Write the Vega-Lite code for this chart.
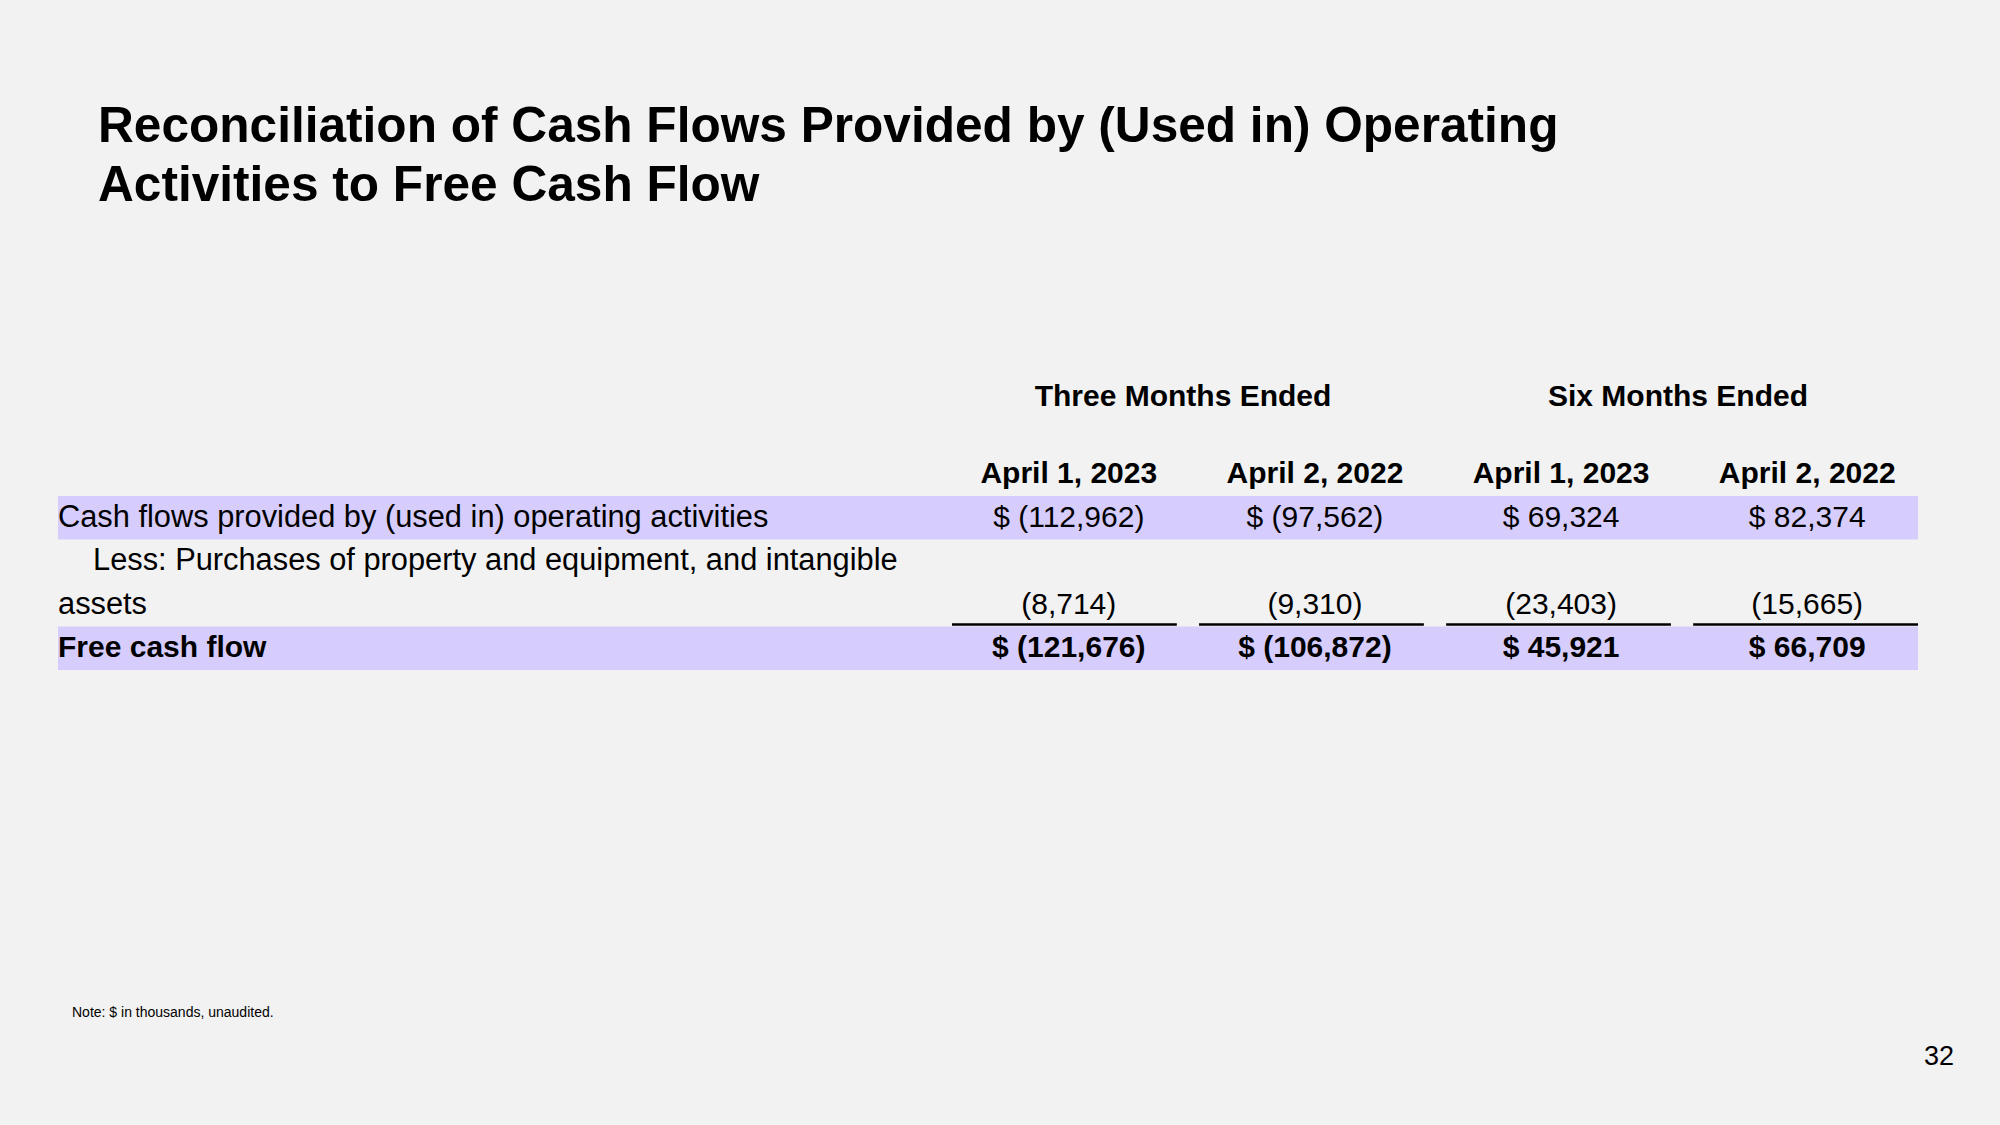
{
  "$schema": "https://vega.github.io/schema/vega-lite/v6.json",
  "width": 2000,
  "height": 1125,
  "autosize": {"type": "none"},
  "padding": 0,
  "background": "#f2f2f2",
  "config": {
    "view": {"stroke": null},
    "text": {"font": "Liberation Sans", "color": "#000000", "baseline": "middle", "fontSize": 30}
  },
  "datasets": {
    "title": [
      {"part": "first", "text": "Reconciliation of Cash Flows Provided by (Used in) Operating"},
      {"part": "second", "text": "Activities to Free Cash Flow"}
    ],
    "headers": [
      {"level": "group", "text": "Three Months Ended", "period": null},
      {"level": "group", "text": "Six Months Ended", "period": null},
      {"level": "date", "text": "April 1, 2023", "period": "3M-2023"},
      {"level": "date", "text": "April 2, 2022", "period": "3M-2022"},
      {"level": "date", "text": "April 1, 2023", "period": "6M-2023"},
      {"level": "date", "text": "April 2, 2022", "period": "6M-2022"}
    ],
    "lines": [
      {"line": "r1", "label": "Cash flows provided by (used in) operating activities"},
      {"line": "r2a", "label": "Less: Purchases of property and equipment, and intangible"},
      {"line": "r2b", "label": "assets"},
      {"line": "r3", "label": "Free cash flow"}
    ],
    "cells": [
      {"line": "r1", "period": "3M-2023", "amount": -112962, "display": "$ (112,962)"},
      {"line": "r1", "period": "3M-2022", "amount": -97562, "display": "$ (97,562)"},
      {"line": "r1", "period": "6M-2023", "amount": 69324, "display": "$ 69,324"},
      {"line": "r1", "period": "6M-2022", "amount": 82374, "display": "$ 82,374"},
      {"line": "r2b", "period": "3M-2023", "amount": -8714, "display": "(8,714)"},
      {"line": "r2b", "period": "3M-2022", "amount": -9310, "display": "(9,310)"},
      {"line": "r2b", "period": "6M-2023", "amount": -23403, "display": "(23,403)"},
      {"line": "r2b", "period": "6M-2022", "amount": -15665, "display": "(15,665)"},
      {"line": "r3", "period": "3M-2023", "amount": -121676, "display": "$ (121,676)"},
      {"line": "r3", "period": "3M-2022", "amount": -106872, "display": "$ (106,872)"},
      {"line": "r3", "period": "6M-2023", "amount": 45921, "display": "$ 45,921"},
      {"line": "r3", "period": "6M-2022", "amount": 66709, "display": "$ 66,709"}
    ],
    "footer": [
      {"item": "note", "text": "Note: $ in thousands, unaudited."},
      {"item": "page", "text": "32"}
    ]
  },
  "layer": [
    {
      "data": {"name": "lines"},
      "transform": [{"filter": "datum.line === 'r1' || datum.line === 'r3'"}],
      "mark": {"type": "rect", "color": "#d6cdfd"},
      "encoding": {
        "y": {"field": "line", "type": "nominal", "axis": null,
              "scale": {"type": "band", "domain": ["r1", "r2a", "r2b", "r3"], "range": [496, 670], "paddingInner": 0, "paddingOuter": 0}},
        "x": {"datum": 0, "type": "quantitative", "axis": null, "scale": {"domain": [0, 1], "range": [58, 1918], "nice": false, "zero": false}},
        "x2": {"datum": 1}
      }
    },
    {
      "data": {"name": "lines"},
      "transform": [{"filter": "datum.line === 'r1' || datum.line === 'r2b'"}],
      "mark": {"type": "text", "align": "left", "fontSize": 30.8},
      "encoding": {
        "y": {"field": "line", "type": "nominal", "axis": null, "bandPosition": 0.5,
              "scale": {"type": "band", "domain": ["r1", "r2a", "r2b", "r3"], "range": [496, 670], "paddingInner": 0, "paddingOuter": 0}},
        "x": {"datum": 0, "type": "quantitative", "axis": null, "scale": {"domain": [0, 1], "range": [58, 1918], "nice": false, "zero": false}},
        "text": {"field": "label", "type": "nominal"}
      }
    },
    {
      "data": {"name": "lines"},
      "transform": [{"filter": "datum.line === 'r2a'"}],
      "mark": {"type": "text", "align": "left", "fontSize": 30.8, "dx": 35},
      "encoding": {
        "y": {"field": "line", "type": "nominal", "axis": null, "bandPosition": 0.5,
              "scale": {"type": "band", "domain": ["r1", "r2a", "r2b", "r3"], "range": [496, 670], "paddingInner": 0, "paddingOuter": 0}},
        "x": {"datum": 0, "type": "quantitative", "axis": null, "scale": {"domain": [0, 1], "range": [58, 1918], "nice": false, "zero": false}},
        "text": {"field": "label", "type": "nominal"}
      }
    },
    {
      "data": {"name": "lines"},
      "transform": [{"filter": "datum.line === 'r3'"}],
      "mark": {"type": "text", "align": "left", "fontWeight": "bold"},
      "encoding": {
        "y": {"field": "line", "type": "nominal", "axis": null, "bandPosition": 0.5,
              "scale": {"type": "band", "domain": ["r1", "r2a", "r2b", "r3"], "range": [496, 670], "paddingInner": 0, "paddingOuter": 0}},
        "x": {"datum": 0, "type": "quantitative", "axis": null, "scale": {"domain": [0, 1], "range": [58, 1918], "nice": false, "zero": false}},
        "text": {"field": "label", "type": "nominal"}
      }
    },
    {
      "data": {"name": "cells"},
      "transform": [{"filter": "datum.line !== 'r3'"}],
      "mark": {"type": "text", "align": "center"},
      "encoding": {
        "y": {"field": "line", "type": "nominal", "axis": null, "bandPosition": 0.5,
              "scale": {"type": "band", "domain": ["r1", "r2a", "r2b", "r3"], "range": [496, 670], "paddingInner": 0, "paddingOuter": 0}},
        "x": {"field": "period", "type": "nominal", "axis": null, "bandPosition": 0.5,
              "scale": {"type": "band", "domain": ["3M-2023", "3M-2022", "6M-2023", "6M-2022"], "range": [958, 1918], "paddingInner": 0.1, "paddingOuter": 0}},
        "text": {"field": "display", "type": "nominal"}
      }
    },
    {
      "data": {"name": "cells"},
      "transform": [{"filter": "datum.line === 'r3'"}],
      "mark": {"type": "text", "align": "center", "fontWeight": "bold"},
      "encoding": {
        "y": {"field": "line", "type": "nominal", "axis": null, "bandPosition": 0.5,
              "scale": {"type": "band", "domain": ["r1", "r2a", "r2b", "r3"], "range": [496, 670], "paddingInner": 0, "paddingOuter": 0}},
        "x": {"field": "period", "type": "nominal", "axis": null, "bandPosition": 0.5,
              "scale": {"type": "band", "domain": ["3M-2023", "3M-2022", "6M-2023", "6M-2022"], "range": [958, 1918], "paddingInner": 0.1, "paddingOuter": 0}},
        "text": {"field": "display", "type": "nominal"}
      }
    },
    {
      "data": {"name": "cells"},
      "transform": [{"filter": "datum.line === 'r3'"}],
      "mark": {"type": "rule", "color": "#000000", "strokeWidth": 2.5, "yOffset": -2},
      "encoding": {
        "y": {"field": "line", "type": "nominal", "axis": null, "bandPosition": 0,
              "scale": {"type": "band", "domain": ["r1", "r2a", "r2b", "r3"], "range": [496, 670], "paddingInner": 0, "paddingOuter": 0}},
        "x": {"field": "period", "type": "nominal", "axis": null, "bandPosition": 0,
              "scale": {"type": "band", "domain": ["3M-2023", "3M-2022", "6M-2023", "6M-2022"], "range": [952, 1918], "paddingInner": 0.09, "paddingOuter": 0}},
        "x2": {"field": "period", "bandPosition": 1}
      }
    },
    {
      "data": {"name": "headers"},
      "transform": [{"filter": "datum.level === 'group'"}],
      "mark": {"type": "text", "align": "center", "fontWeight": "bold"},
      "encoding": {
        "y": {"field": "level", "type": "nominal", "axis": null,
              "scale": {"type": "point", "domain": ["group", "date"], "range": [397, 474], "padding": 0}},
        "x": {"field": "text", "type": "nominal", "axis": null,
              "scale": {"type": "point", "domain": ["Three Months Ended", "Six Months Ended"], "range": [1183, 1678], "padding": 0}},
        "text": {"field": "text", "type": "nominal"}
      }
    },
    {
      "data": {"name": "headers"},
      "transform": [{"filter": "datum.level === 'date'"}],
      "mark": {"type": "text", "align": "center", "fontWeight": "bold"},
      "encoding": {
        "y": {"field": "level", "type": "nominal", "axis": null,
              "scale": {"type": "point", "domain": ["group", "date"], "range": [397, 474], "padding": 0}},
        "x": {"field": "period", "type": "nominal", "axis": null, "bandPosition": 0.5,
              "scale": {"type": "band", "domain": ["3M-2023", "3M-2022", "6M-2023", "6M-2022"], "range": [958, 1918], "paddingInner": 0.1, "paddingOuter": 0}},
        "text": {"field": "text", "type": "nominal"}
      }
    },
    {
      "data": {"name": "title"},
      "mark": {"type": "text", "align": "left", "fontWeight": "bold", "fontSize": 49.6},
      "encoding": {
        "y": {"field": "part", "type": "nominal", "axis": null,
              "scale": {"type": "point", "domain": ["first", "second"], "range": [127, 186], "padding": 0}},
        "x": {"datum": 0, "type": "quantitative", "axis": null, "scale": {"domain": [0, 1], "range": [98, 1918], "nice": false, "zero": false}},
        "text": {"field": "text", "type": "nominal"}
      }
    },
    {
      "data": {"name": "footer"},
      "transform": [{"filter": "datum.item === 'note'"}],
      "mark": {"type": "text", "align": "left", "fontSize": 14},
      "encoding": {
        "y": {"field": "item", "type": "nominal", "axis": null,
              "scale": {"type": "point", "domain": ["note", "page"], "range": [1013, 1057], "padding": 0}},
        "x": {"field": "item", "type": "nominal", "axis": null,
              "scale": {"type": "point", "domain": ["note", "page"], "range": [72, 1954], "padding": 0}},
        "text": {"field": "text", "type": "nominal"}
      }
    },
    {
      "data": {"name": "footer"},
      "transform": [{"filter": "datum.item === 'page'"}],
      "mark": {"type": "text", "align": "right", "fontSize": 27},
      "encoding": {
        "y": {"field": "item", "type": "nominal", "axis": null,
              "scale": {"type": "point", "domain": ["note", "page"], "range": [1013, 1057], "padding": 0}},
        "x": {"field": "item", "type": "nominal", "axis": null,
              "scale": {"type": "point", "domain": ["note", "page"], "range": [72, 1954], "padding": 0}},
        "text": {"field": "text", "type": "nominal"}
      }
    }
  ],
  "resolve": {"scale": {"x": "independent", "y": "independent"}}
}
